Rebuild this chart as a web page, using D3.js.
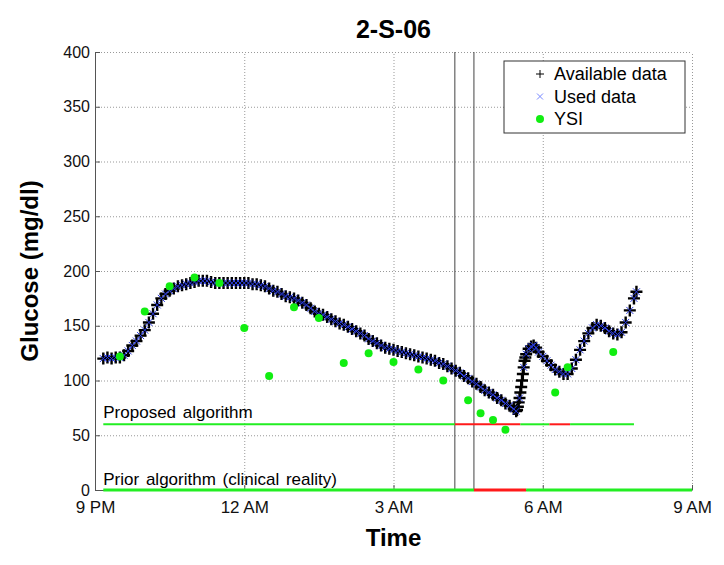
<!DOCTYPE html>
<html lang="en">
<head>
<meta charset="UTF-8">
<title>2-S-06</title>
<script src="https://cdn.jsdelivr.net/npm/d3@7"></script>
<style>
    body{
        margin: 0;
        background: #fff;
        font-family: "Liberation Sans", Arial, Helvetica, sans-serif;
    }
    svg{ display: block; }
    .grid line{
        stroke: #999;
        stroke-dasharray: 1,2;
    }
    .grid .domain{ display: none; }
    .axis path, .axis line{ stroke: #555; }
    .axis text{ font-size: 16px; fill: #111; }
    .avail{ stroke: #000; stroke-width: 2.4; fill: none; }
    .used{ stroke: #2a3be0; stroke-width: 1; fill: none; }
</style>
</head>
<body>
<script>
// CGM trace: [minutes after 9 PM, glucose mg/dl]
const cgmData = [
    [10,120],[15,121],[20,120],[25,121],[30,121],[35,123],[40,127],[45,132],[50,136],[55,141],
    [60,146],[65,153],[70,161],[75,169],[80,175],[85,179],[90,182],[95,184],[100,186],[105,187],
    [110,188],[115,189],[120,190],[125,191],[130,191],[135,191],[140,190],[145,189],[150,189],[155,189],
    [160,189],[165,189],[170,189],[175,189],[180,189],[185,189],[190,188],[195,188],[200,187],[205,186],
    [210,184],[215,182],[220,181],[225,179],[230,177],[235,176],[240,175],[245,173],[250,171],[255,169],
    [260,166],[265,163],[270,161],[275,160],[280,158],[285,156],[290,154],[295,152],[300,151],[305,149],
    [310,147],[315,145],[320,143],[325,141],[330,138],[335,136],[340,134],[345,132],[350,130],[355,129],
    [360,128],[365,127],[370,126],[375,125],[380,124],[385,123],[390,122],[395,121],[400,120],[405,119],
    [410,118],[415,116],[420,115],[425,113],[430,111],[435,109],[440,107],[445,104],[450,102],[455,99],
    [460,97],[465,94],[470,91],[475,89],[480,87],[485,84],[490,82],[495,79],[500,77],[505,74],
    [508,72],[509,73],[510,76],[511,80],[512,84],[513,89],[514,94],[515,100],[516,106],[517,112],
    [518,118],[519,121],[520,124],[523,129],[526,131],[529,132],[532,130],[535,126],[540,122],[545,118],
    [550,114],[555,110],[560,108],[565,106],[570,106],[575,111],[580,119],[585,128],[590,136],[595,143],
    [600,148],[605,151],[610,150],[615,148],[620,145],[625,143],[630,142],[635,144],[640,153],[645,164],
    [650,175],[653,181]
];
// samples of the trace that were not used by the algorithm
const skippedMinutes = [509,510,511,513,514,515,516,518,519];

// YSI reference: [minutes after 9 PM, glucose]
const ysiData = [
    [30,122],[60,163],[90,186],[120,194],[150,189],[180,148],[210,104],[240,167],[270,157],[300,116],
    [330,125],[360,117],[390,110],[420,100],[450,82],[465,70],[480,64],[495,55],[555,89],[570,112],[625,126]
];

// alarm bars: [start, end, state]
const proposedLevel = 60;
const proposedSegments = [[10,434,"off"],[434,513,"on"],[513,548,"off"],[548,573,"on"],[573,650,"off"]];
const priorLevel = 0;
const priorSegments = [[10,457,"off"],[457,520,"on"],[520,720,"off"]];
const markerLines = [434, 457];

const yTicks = [0,50,100,150,200,250,300,350,400];
const legendItems = [
    {name:"Available data", kind:"avail"},
    {name:"Used data", kind:"used"},
    {name:"YSI", kind:"ysi"}
];

// ---- setup
const width = 724, height = 565;
const margins = {top: 52, bottom: 75, left: 95, right: 32};
const t0 = new Date(2011, 0, 1, 21, 0);
const toDate = m => new Date(t0.getTime() + m*60000);

const svg = d3.select("body").append("svg")
    .attr("width", width).attr("height", height);

const xScale = d3.scaleTime()
    .domain([toDate(0), toDate(720)])
    .range([margins.left, width - margins.right]);
const yScale = d3.scaleLinear()
    .domain([0, 400])
    .range([height - margins.bottom, margins.top]);

const xTicks = d3.range(0, 721, 180).map(toDate);
const fmt = d3.timeFormat("%-I %p");

// grid
svg.append("g").attr("class","grid")
    .attr("transform",`translate(0,${height - margins.bottom})`)
    .call(d3.axisBottom(xScale).tickValues(xTicks).tickSize(-(height - margins.top - margins.bottom)).tickFormat(""));
svg.append("g").attr("class","grid")
    .attr("transform",`translate(${margins.left},0)`)
    .call(d3.axisLeft(yScale).tickValues(yTicks).tickSize(-(width - margins.left - margins.right)).tickFormat(""));

// axes
const xAxis = svg.append("g").attr("class","axis")
    .attr("transform",`translate(0,${height - margins.bottom})`)
    .call(d3.axisBottom(xScale).tickValues(xTicks).tickFormat(fmt)
        .tickSizeInner(-5).tickSizeOuter(0).tickPadding(8));
xAxis.selectAll("text").attr("dy","0.9em").style("font-size","17px");
const yAxis = svg.append("g").attr("class","axis")
    .attr("transform",`translate(${margins.left},0)`)
    .call(d3.axisLeft(yScale).tickValues(yTicks)
        .tickSizeInner(-5).tickSizeOuter(0).tickPadding(5));
yAxis.selectAll("text").style("font-size","16px");

// vertical markers
svg.selectAll(".vline").data(markerLines).enter().append("line")
    .attr("x1", d=>xScale(toDate(d))).attr("x2", d=>xScale(toDate(d)))
    .attr("y1", yScale(0)).attr("y2", yScale(400))
    .attr("stroke","#444").attr("stroke-width",1);

// alarm bars
function drawBar(segs, level, w){
    svg.append("g").selectAll("line").data(segs).enter().append("line")
        .attr("x1", d=>xScale(toDate(d[0]))).attr("x2", d=>xScale(toDate(d[1])))
        .attr("y1", yScale(level)).attr("y2", yScale(level))
        .attr("stroke", d=> d[2]=="on" ? "#ff1a1a" : "#22ee22")
        .attr("stroke-width", w);
}
drawBar(proposedSegments, proposedLevel, 2);
drawBar(priorSegments, priorLevel, 3);

svg.append("text").attr("x", xScale(toDate(10))).attr("y", yScale(proposedLevel) - 6)
    .style("font-size","17px").style("word-spacing","2px").text("Proposed algorithm");
svg.append("text").attr("x", xScale(toDate(10))).attr("y", yScale(priorLevel) - 5)
    .style("font-size","17px").style("word-spacing","2px").text("Prior algorithm (clinical reality)");

// markers
const plusPath = "M-6,0H6M0,-6V6";
const crossPath = "M-3.5,-3.5L3.5,3.5M-3.5,3.5L3.5,-3.5";

svg.append("g").selectAll("path").data(cgmData).enter().append("path")
    .attr("class","avail").attr("d", plusPath)
    .attr("transform", d=>`translate(${xScale(toDate(d[0]))},${yScale(d[1])})`);

const usedData = cgmData.filter(d => !skippedMinutes.includes(d[0]));
svg.append("g").selectAll("path").data(usedData).enter().append("path")
    .attr("class","used").attr("d", crossPath)
    .attr("transform", d=>`translate(${xScale(toDate(d[0]))},${yScale(d[1])})`);

svg.append("g").selectAll("circle").data(ysiData).enter().append("circle")
    .attr("cx", d=>xScale(toDate(d[0]))).attr("cy", d=>yScale(d[1]))
    .attr("r", 4).attr("fill","#11ee11");

// titles
svg.append("text").attr("x", (margins.left + width - margins.right)/2).attr("y", 38)
    .attr("text-anchor","middle").style("font-size","25px").style("font-weight","bold").text("2-S-06");
svg.append("text").attr("x", (margins.left + width - margins.right)/2).attr("y", 546)
    .attr("text-anchor","middle").style("font-size","24px").style("font-weight","bold").text("Time");
svg.append("text").attr("transform", `translate(38,${(margins.top + height - margins.bottom)/2}) rotate(-90)`)
    .attr("text-anchor","middle").style("font-size","24px").style("font-weight","bold").text("Glucose (mg/dl)");

// legend
const lg = svg.append("g").attr("transform","translate(504,61)");
lg.append("rect").attr("width",181).attr("height",72)
    .attr("fill","#fff").attr("stroke","#333").attr("stroke-width",1);
const rows = lg.selectAll(".row").data(legendItems).enter().append("g")
    .attr("transform",(d,i)=>`translate(0,${13 + i*22.5})`);
rows.filter(d=>d.kind=="avail").append("path").attr("d","M-4,0H4M0,-4V4").attr("stroke","#000").attr("stroke-width",1).attr("transform","translate(36,0)");
rows.filter(d=>d.kind=="used").append("path").attr("d","M-3,-3L3,3M-3,3L3,-3").attr("stroke","#7788ff").attr("stroke-width",1).attr("transform","translate(36,0)");
rows.filter(d=>d.kind=="ysi").append("circle").attr("cx",36).attr("r",4).attr("fill","#11ee11");
rows.append("text").attr("x",50).attr("dy","0.35em").style("font-size","18px").text(d=>d.name);
</script>
</body>
</html>
